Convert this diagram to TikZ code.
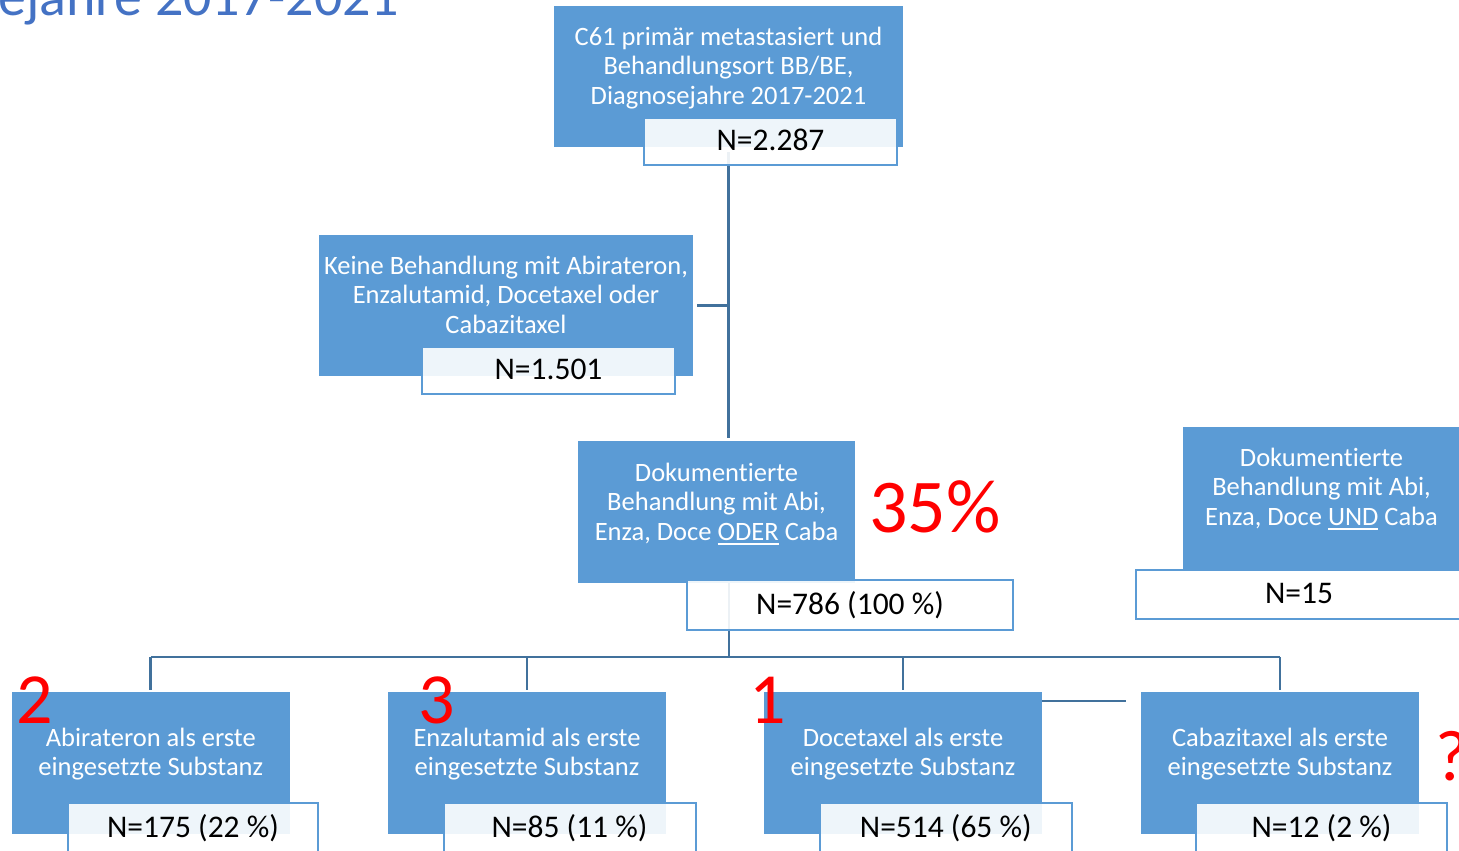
\documentclass[tikz,border=0pt]{standalone}
\usepackage{fontspec}
\setmainfont{Carlito}[Ligatures=NoCommon]
\definecolor{boxblue}{HTML}{5B9BD5}
\definecolor{linkblue}{HTML}{41719C}
\definecolor{titleblue}{HTML}{4472C4}
\definecolor{markred}{HTML}{FF0000}
\newsavebox{\ulbox}
\newcommand{\ulx}[1]{\sbox{\ulbox}{#1}\rlap{\rule[-5pt]{\wd\ulbox}{1.8pt}}\usebox{\ulbox}}
\newcommand{\firstln}{\rule{0pt}{20pt}}
\tikzset{
  bluebox/.style={fill=boxblue, draw=none, inner sep=0pt, outer sep=0pt, anchor=north west},
  nbox/.style={fill=white, fill opacity=0.9, draw=boxblue, line width=2pt, inner sep=0pt, outer sep=0pt, anchor=north west},
  conn/.style={draw=linkblue, line width=2.8pt},
  boxtext/.style={text=white, align=center, font=\fontsize{26.5}{29.5}\selectfont, inner sep=0pt, anchor=north},
  ntext/.style={text=black, font=\fontsize{31.5}{36}\selectfont, inner sep=0pt, anchor=base},
  rednum/.style={text=markred, font=\fontsize{72}{80}\selectfont, inner sep=0pt},
}
\begin{document}
\begin{tikzpicture}[x=1pt,y=-1pt]
\useasboundingbox (0,0) rectangle (1459,851);
\clip (0,0) rectangle (1459,851);

% clipped title
\node[text=titleblue, font=\fontsize{56}{60}\selectfont, inner sep=0pt, anchor=base west] (title) at (-2,16) {ejahre 2017-2021};

% blue boxes
\node[bluebox, minimum width=349pt, minimum height=141pt] (top) at (554,6) {};
\node[bluebox, minimum width=374pt, minimum height=141pt] (left) at (319,235) {};
\node[bluebox, minimum width=277pt, minimum height=142pt] (dok) at (578,441) {};
\node[bluebox, minimum width=278pt, minimum height=143pt] (und) at (1183,427) {};
\node[bluebox, minimum width=278.5pt, minimum height=142pt] (abi) at (11.5,692) {};
\node[bluebox, minimum width=278pt, minimum height=142pt] (enza) at (388,692) {};
\node[bluebox, minimum width=278pt, minimum height=142pt] (doce) at (764,692) {};
\node[bluebox, minimum width=278pt, minimum height=142pt] (cab) at (1141,692) {};

% connectors
\coordinate (bus) at (729,657);
\coordinate (stubend) at (1126,701);
\draw[conn] ([yshift=-5pt]top.south) -- ([yshift=3pt]top.south |- dok.north);
\draw[conn] ([xshift=4pt]left.east) -- (left.east -| top.south);
\draw[conn] (bus |- dok.south) -- (bus);
\draw[conn] (abi.north |- bus) -- (cab.north |- bus);
\draw[conn] (abi.north |- bus) -- ([yshift=2pt]abi.north);
\draw[conn] (enza.north |- bus) -- ([yshift=2pt]enza.north);
\draw[conn] (doce.north |- bus) -- ([yshift=2pt]doce.north);
\draw[conn] (cab.north |- bus) -- ([yshift=2pt]cab.north);
\draw[conn] (doce.east |- stubend) -- (stubend);

% N boxes
\node[nbox, minimum width=253pt, minimum height=47pt] (n1) at (644,118) {};
\node[nbox, minimum width=253pt, minimum height=47pt] (n2) at (422,347) {};
\node[nbox, minimum width=326pt, minimum height=50pt] (n3) at (687,580) {};
\node[nbox, minimum width=326pt, minimum height=49pt] (n4) at (1136,570) {};
\node[nbox, minimum width=250pt, minimum height=50pt] (n5) at (68,803) {};
\node[nbox, minimum width=252pt, minimum height=50pt] (n6) at (443.5,803) {};
\node[nbox, minimum width=251.5pt, minimum height=50pt] (n7) at (820,803) {};
\node[nbox, minimum width=251pt, minimum height=50pt] (n8) at (1196,803) {};

% box texts
\node[boxtext] (ttop) at (728.5,25) {\firstln C61 primär metastasiert und\\Behandlungsort BB/BE,\\Diagnosejahre 2017-2021};
\node[boxtext] (tleft) at (506,254) {\firstln Keine Behandlung mit Abirateron,\\Enzalutamid, Docetaxel oder\\Cabazitaxel};
\node[boxtext] (tdok) at (716.5,461) {\firstln Dokumentierte\\Behandlung mit Abi,\\Enza, Doce \ulx{ODER} Caba};
\node[boxtext] (tund) at (1321.5,446) {\firstln Dokumentierte\\Behandlung mit Abi,\\Enza, Doce \ulx{UND} Caba};
\node[boxtext] (tabi) at (150.75,726) {\firstln Abirateron als erste\\eingesetzte Substanz};
\node[boxtext] (tenza) at (527,726) {\firstln Enzalutamid als erste\\eingesetzte Substanz};
\node[boxtext] (tdoce) at (903,726) {\firstln Docetaxel als erste\\eingesetzte Substanz};
\node[boxtext] (tcab) at (1280,726) {\firstln Cabazitaxel als erste\\eingesetzte Substanz};

% N texts
\node[ntext] (tn1) at ([yshift=-9pt]n1.center) {N=2.287};
\node[ntext] (tn2) at ([yshift=-9pt]n2.center) {N=1.501};
\node[ntext] (tn3) at ([yshift=-9pt]n3.center) {N=786 (100 \%)};
\node[ntext] (tn4) at ([yshift=-9pt]n4.center) {N=15};
\node[ntext] (tn5) at ([yshift=-9pt]n5.center) {N=175 (22 \%)};
\node[ntext] (tn6) at ([yshift=-9pt]n6.center) {N=85 (11 \%)};
\node[ntext] (tn7) at ([yshift=-9pt]n7.center) {N=514 (65 \%)};
\node[ntext] (tn8) at ([yshift=-9pt]n8.center) {N=12 (2 \%)};

% red annotations
\node[rednum, font=\fontsize{76}{80}\selectfont, anchor=base west] (pct) at (869,532) {35\%};
\node[rednum, anchor=base] (r2) at (34.5,723) {2};
\node[rednum, anchor=base] (r3) at (436.5,723) {3};
\node[rednum, anchor=base] (r1) at (768,723) {1};
\node[rednum, anchor=base west] (rq) at (1435,780) {?};
\end{tikzpicture}
\end{document}
